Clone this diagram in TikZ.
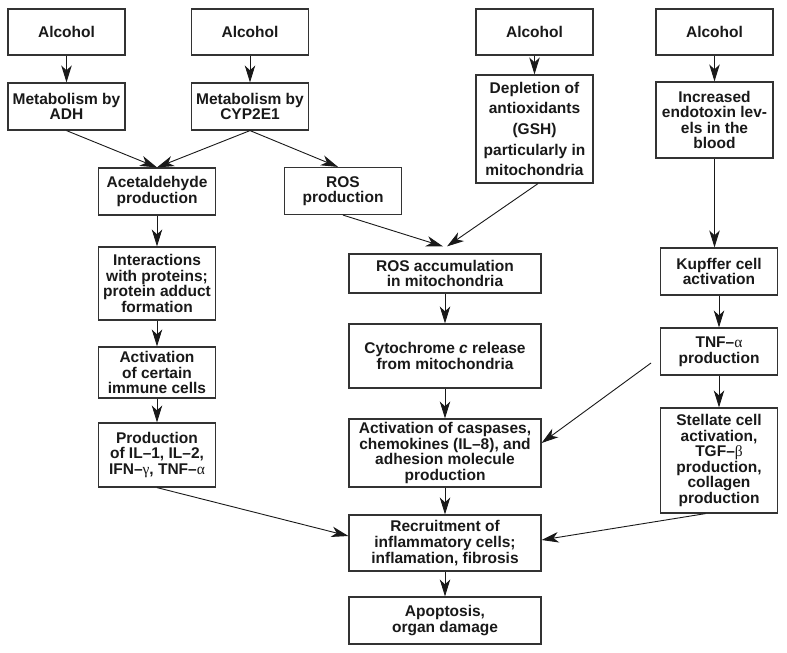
\documentclass[tikz,border=0pt]{standalone}
\usepackage{fontspec}
\setmainfont{Liberation Sans}
\newfontfamily\greekfont{Liberation Serif}
\usetikzlibrary{arrows.meta, positioning}
\newcommand{\grk}[1]{{\greekfont\mdseries #1}}

\begin{document}
\begin{tikzpicture}
  [
  x = 1pt, y = 1pt, node distance = 80pt, on grid,
  >={Stealth[length=17pt, width=10.5pt, inset=5pt]},
  every node/.style={font=\fontsize{15.5}{15.6}\selectfont\bfseries},
  box/.style={draw=black!80, line width=1.2pt, text=black!90, align=center,
              inner sep=1pt, minimum width=117pt, minimum height=#1},
  box/.default=47pt,
  wide box/.style={box=#1, minimum width=192pt},
  wide box/.default=47pt,
  pre/.style={<-, line width=0.9pt, draw=black!90},
  post/.style={->, line width=0.9pt, draw=black!90}
  ]
  \path[use as bounding box, fill=white] (0,0) rectangle (787,-653);

  % alcohol on top
  \node[box=46pt]  (al1)                      at (66.5,-32)   {Alcohol};
  \node[box]       (adh)   [below=74.5pt of al1]              {Metabolism by\\ADH}
    edge [pre]             (al1);
  \node[box=46pt]  (al2)                      at (250,-32)    {Alcohol};
  \node[box]       (cyp)   [below=74.5pt of al2]              {Metabolism by\\CYP2E1}
    edge [pre]             (al2);
  \node[box=46pt]  (al3)                      at (534.5,-32)  {Alcohol};
  \node[box=108pt, font=\fontsize{15.5}{20.7}\selectfont\bfseries]
                   (depl)  [below=97pt of al3]
                   {Depletion of\\antioxidants\\(GSH)\\particularly in\\mitochondria}
    edge [pre]             (al3);
  \node[box=46pt]  (al4)                      at (714.5,-32)  {Alcohol};
  \node[box=76pt]  (endo)  [below=88pt of al4]                {Increased\\endotoxin lev-\\els in the\\blood}
    edge [pre]             (al4);

  % acetaldehyde branch
  \node[box]       (ald)                      at (157,-191.5) {Acetaldehyde\\production};
  \node[box=73pt]  (inter) [below=92pt of ald]
                   {Interactions\\with proteins;\\protein adduct\\formation}
    edge [pre]             (ald);
  \node[box=51pt]  (imm)   [below=89pt of inter]              {Activation\\of certain\\immune cells}
    edge [pre]             (inter);
  \node[box=64pt]  (prod)  [below=82.5pt of imm]
                   {Production\\of IL–1, IL–2,\\IFN–\grk{γ}, TNF–\grk{α}}
    edge [pre]             (imm);

  % ROS branch
  \node[box]       (rosp)                     at (343,-191)   {ROS\\production};
  \node[wide box=39pt] (rosacc)               at (445,-273.5) {ROS accumulation\\in mitochondria};
  \node[wide box=64pt] (cyto) [below=82.5pt of rosacc]
                   {Cytochrome \textit{c} release\\from mitochondria}
    edge [pre]             (rosacc);
  \node[wide box=68pt] (casp) [below=97pt of cyto]
                   {Activation of caspases,\\chemokines (IL–8), and\\adhesion molecule\\production}
    edge [pre]             (cyto);
  \node[wide box=56pt] (recr) [below=90pt of casp]
                   {Recruitment of\\inflammatory cells;\\inflamation, fibrosis}
    edge [pre]             (casp);
  \node[wide box]  (apop)  [below=77.5pt of recr]             {Apoptosis,\\organ damage}
    edge [pre]             (recr);

  % endotoxin branch
  \node[box]       (kup)   [below=151.5pt of endo, xshift=4.5pt] {Kupffer cell\\activation};
  \node[box]       (tnf)   [below=80pt of kup]                {TNF–\grk{α}\\production}
    edge [pre]             (kup);
  \node[box=105pt] (stel)  [below=109pt of tnf]
                   {Stellate cell\\activation,\\TGF–\grk{β}\\production,\\collagen\\production}
    edge [pre]             (tnf);

  \draw[post] (adh.south) -- (ald.north);
  \draw[post] (cyp.south) -- (ald.north);
  \draw[post] (cyp.south) -- ([xshift=-5pt]rosp.north);
  \draw[post] (rosp.south) -- ([shift={(-2pt,7pt)}]rosacc.north);
  \draw[post] ([xshift=3.5pt]depl.south) -- ([shift={(2pt,7pt)}]rosacc.north);
  \draw[post] (endo.south) -- (endo.south |- kup.north);
  \draw[post] (prod.south) -- ([yshift=7pt]recr.west);
  \draw[post, shorten <=11pt] ([yshift=-5pt]tnf.west) -- ([yshift=10pt]casp.east);
  \draw[post] ([xshift=-13.5pt]stel.south) -- ([yshift=3pt]recr.east);
\end{tikzpicture}
\end{document}
